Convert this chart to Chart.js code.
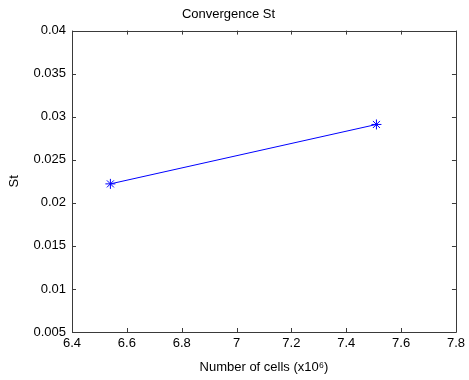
<!DOCTYPE html>
<html>
<head>
<meta charset="utf-8">
<title>Convergence St</title>
<script src="https://cdn.jsdelivr.net/npm/chart.js@4/dist/chart.umd.min.js"></script>
<style>
  html, body { margin: 0; padding: 0; background: #fff; }
  canvas { display: block; }
</style>
</head>
<body>
<canvas id="canvas" width="469" height="380"></canvas>
<script>
// data
var cells = [6.54, 7.51];          // number of cells (x10^6)
var stValues = [0.0222, 0.0291];   // St
var xRange = [6.4, 7.8, 0.2];      // min, max, step
var yRange = [0.005, 0.04, 0.005];

var fontFam = '"Liberation Sans", Arial, Helvetica, sans-serif';
var axisColor = '#3a3a3a';

function fmt(v) {
  return String(+Number(v).toFixed(4));
}

// matlab style box with inward ticks on all four sides
var boxTicks = {
  id: 'boxTicks',
  afterDraw: function(chart) {
    var ctx = chart.ctx, a = chart.chartArea;
    var xs = chart.scales.x, ys = chart.scales.y;
    var len = 4;
    ctx.save();
    ctx.strokeStyle = axisColor;
    ctx.lineWidth = 1;
    ctx.beginPath();
    ctx.rect(Math.round(a.left) + 0.5, Math.round(a.top) + 0.5,
             Math.round(a.right - a.left), Math.round(a.bottom - a.top));
    xs.ticks.forEach(function(t) {
      var px = Math.round(xs.getPixelForValue(t.value)) + 0.5;
      ctx.moveTo(px, a.bottom);
      ctx.lineTo(px, a.bottom - len);
      ctx.moveTo(px, a.top);
      ctx.lineTo(px, a.top + len);
    });
    ys.ticks.forEach(function(t) {
      var py = Math.round(ys.getPixelForValue(t.value)) + 0.5;
      ctx.moveTo(a.left, py);
      ctx.lineTo(a.left + len, py);
      ctx.moveTo(a.right, py);
      ctx.lineTo(a.right - len, py);
    });
    ctx.stroke();
    ctx.restore();
  }
};

var points = cells.map(function(c, i) { return { x: c, y: stValues[i] }; });

var config = {
  type: 'line',
  data: {
    datasets: [{
      label: 'St',
      data: points,
      borderColor: '#0000ff',
      backgroundColor: '#0000ff',
      borderWidth: 1,
      fill: false,
      tension: 0,
      pointStyle: 'star',
      pointRadius: 5,
      pointBorderWidth: 1,
      pointBorderColor: '#0000ff'
    }]
  },
  options: {
    responsive: false,
    animation: false,
    layout: { padding: { left: 0, right: 12, top: 0, bottom: 0 } },
    plugins: {
      legend: { display: false },
      tooltip: { enabled: false },
      title: {
        display: true,
        text: 'Convergence St',
        color: '#000',
        font: { family: fontFam, size: 13, weight: 'normal' },
        padding: { top: 7, bottom: 8 }
      }
    },
    scales: {
      x: {
        type: 'linear',
        min: xRange[0],
        max: xRange[1],
        grid: { display: false, drawTicks: false },
        border: { display: false },
        ticks: {
          stepSize: xRange[2],
          padding: 4,
          color: '#000',
          maxRotation: 0,
          font: { family: fontFam, size: 13 },
          callback: fmt
        },
        title: {
          display: true,
          text: 'Number of cells (x10\u2076)',
          color: '#000',
          font: { family: fontFam, size: 13 },
          padding: { top: 5, bottom: 5 }
        },
        afterFit: function(s) { s.height = 48; }
      },
      y: {
        type: 'linear',
        min: yRange[0],
        max: yRange[1],
        grid: { display: false, drawTicks: false },
        border: { display: false },
        ticks: {
          stepSize: yRange[2],
          padding: 6,
          color: '#000',
          font: { family: fontFam, size: 13 },
          callback: fmt
        },
        title: {
          display: true,
          text: 'St',
          color: '#000',
          font: { family: fontFam, size: 13 },
          padding: { top: 7, bottom: 7 }
        },
        afterFit: function(s) { s.width = 72; }
      }
    }
  },
  plugins: [boxTicks]
};

window.onload = function() {
  var ctx = document.getElementById('canvas').getContext('2d');
  window.myLine = new Chart(ctx, config);
};
</script>
</body>
</html>
